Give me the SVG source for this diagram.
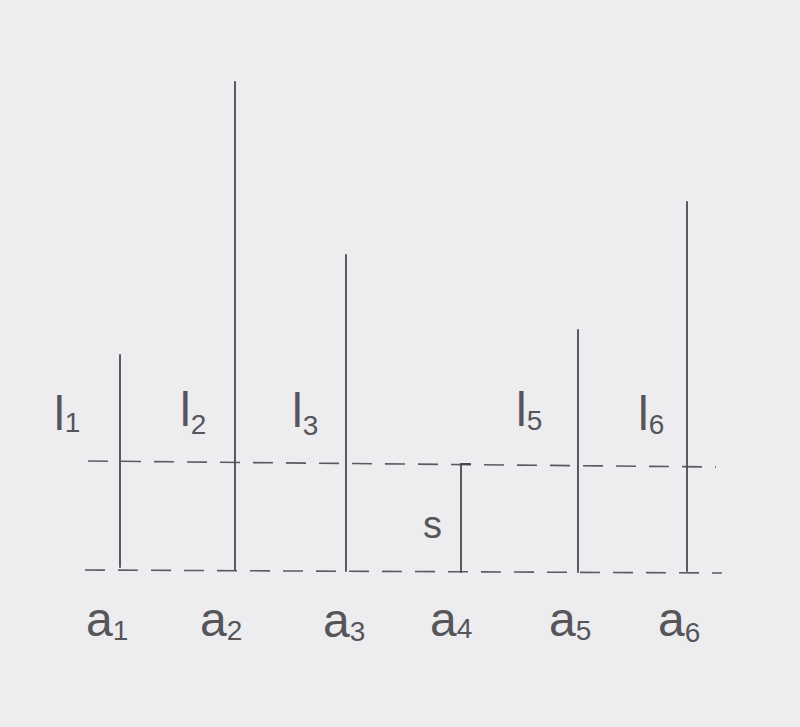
<svg xmlns="http://www.w3.org/2000/svg" width="800" height="727" viewBox="0 0 800 727">
<style>
.bar{stroke:#4a4a4e;stroke-width:1.8;fill:none;stroke-linecap:round}
.dash{stroke:#5a5a60;stroke-width:1.6;fill:none;stroke-dasharray:20 13}
.lbl{font-family:"Liberation Sans","DejaVu Sans",sans-serif;font-size:48px;fill:#55555a}
.sub{font-size:28px}
</style>
<rect width="800" height="727" fill="#ededef"/>
<g id="connectors">
<line class="dash" x1="88" y1="461" x2="716" y2="467"/>
<line class="dash" x1="85" y1="570" x2="722" y2="573"/>
</g>
<g id="a1"><line class="bar" x1="120" y1="355" x2="120" y2="567"/><text class="lbl" x="54" y="430">l<tspan class="sub" dy="2">1</tspan></text><text class="lbl" x="86" y="636">a<tspan class="sub" dy="4">1</tspan></text></g>
<g id="a2"><line class="bar" x1="235" y1="82" x2="235" y2="570"/><text class="lbl" x="180" y="426">l<tspan class="sub" dy="8">2</tspan></text><text class="lbl" x="200" y="636">a<tspan class="sub" dy="4">2</tspan></text></g>
<g id="a3"><line class="bar" x1="346" y1="255" x2="346" y2="571"/><text class="lbl" x="292" y="427">l<tspan class="sub" dy="8">3</tspan></text><text class="lbl" x="323" y="637">a<tspan class="sub" dy="4">3</tspan></text></g>
<g id="a4"><path class="bar" d="M461 572 V464 H470"/><text class="lbl" x="423" y="538" style="font-size:38px">s</text><text class="lbl" x="430" y="636">a<tspan class="sub" dy="2">4</tspan></text></g>
<g id="a5"><line class="bar" x1="578" y1="330" x2="578" y2="572"/><text class="lbl" x="516" y="426">l<tspan class="sub" dy="4">5</tspan></text><text class="lbl" x="549" y="636">a<tspan class="sub" dy="4">5</tspan></text></g>
<g id="a6"><line class="bar" x1="687" y1="202" x2="687" y2="571"/><text class="lbl" x="638" y="430">l<tspan class="sub" dy="4">6</tspan></text><text class="lbl" x="658" y="636">a<tspan class="sub" dy="6">6</tspan></text></g>
</svg>
